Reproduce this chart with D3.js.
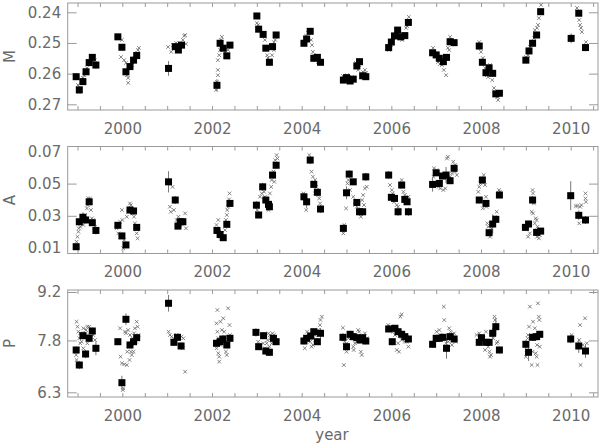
<!DOCTYPE html>
<html><head><meta charset="utf-8">
<script src="https://cdn.jsdelivr.net/npm/d3@7"></script>
<style>body{margin:0;background:#fff}svg{display:block}</style>
</head><body>
<svg id="c" width="600" height="445"></svg>
<script>
// ---------- DATA ----------
const xTickYears = d3.range(1999, 2010.51, 0.5);
const xLabelYears = [2000, 2002, 2004, 2006, 2008, 2010];

const mTicks = [0.24, 0.25, 0.26, 0.27];
const aTicks = [0.01, 0.03, 0.05, 0.07];
const aTickMarks = [0.03, 0.05];
const pTicks = [6.3, 7.8, 9.2];

// [year, value, error]
const mSquares = [
[1998.97,0.2610,0.0010],[1999.04,0.2653,0.0012],[1999.12,0.2626,0.0010],[1999.19,0.2594,0.0010],[1999.26,0.2564,0.0010],[1999.33,0.2547,0.0010],[1999.41,0.2572,0.0012],
[1999.90,0.2480,0.0010],[1999.99,0.2514,0.0010],[2000.08,0.2594,0.0010],[2000.17,0.2577,0.0010],[2000.25,0.2556,0.0010],[2000.32,0.2541,0.0010],
[2001.03,0.2583,0.0024],[2001.18,0.2512,0.0010],[2001.25,0.2523,0.0010],[2001.32,0.2507,0.0010],
[2002.11,0.2638,0.0020],[2002.18,0.2501,0.0010],[2002.25,0.2517,0.0010],[2002.33,0.2542,0.0010],[2002.40,0.2507,0.0010],
[2003.00,0.2412,0.0010],[2003.04,0.2455,0.0010],[2003.14,0.2472,0.0010],[2003.20,0.2517,0.0010],[2003.28,0.2563,0.0010],[2003.35,0.2512,0.0010],[2003.43,0.2474,0.0010],
[2004.05,0.2501,0.0010],[2004.11,0.2487,0.0010],[2004.19,0.2462,0.0010],[2004.27,0.2550,0.0010],[2004.35,0.2547,0.0010],[2004.42,0.2563,0.0010],
[2004.93,0.2621,0.0010],[2005.00,0.2613,0.0010],[2005.08,0.2624,0.0010],[2005.15,0.2618,0.0010],[2005.23,0.2575,0.0010],[2005.29,0.2561,0.0010],[2005.36,0.2607,0.0010],[2005.43,0.2610,0.0010],
[2005.94,0.2515,0.0010],[2006.00,0.2497,0.0010],[2006.07,0.2477,0.0010],[2006.14,0.2458,0.0010],[2006.21,0.2480,0.0010],[2006.30,0.2476,0.0010],[2006.38,0.2433,0.0010],
[2006.92,0.2532,0.0010],[2007.00,0.2539,0.0010],[2007.07,0.2550,0.0010],[2007.16,0.2561,0.0010],[2007.23,0.2547,0.0010],[2007.31,0.2496,0.0010],[2007.40,0.2499,0.0010],
[2007.96,0.2510,0.0012],[2008.03,0.2563,0.0010],[2008.11,0.2597,0.0010],[2008.18,0.2581,0.0010],[2008.26,0.2599,0.0010],[2008.33,0.2666,0.0010],[2008.41,0.2664,0.0010],
[2009.00,0.2556,0.0010],[2009.07,0.2526,0.0010],[2009.15,0.2501,0.0010],[2009.24,0.2474,0.0010],[2009.33,0.2398,0.0010],
[2010.01,0.2485,0.0016],[2010.18,0.2403,0.0010],[2010.33,0.2515,0.0012]
];
const mCrosses = [
[1999.01,0.2637],[1999.03,0.2660],[1999.06,0.2647],[1999.12,0.2614],[1999.15,0.2605],[1999.17,0.2588],[1999.21,0.2582],[1999.26,0.2565],[1999.30,0.2556],[1999.35,0.2546],[1999.39,0.2556],[1999.37,0.2562],
[1999.99,0.2490],[1999.97,0.2546],[2000.04,0.2556],[2000.08,0.2565],[2000.10,0.2605],[2000.13,0.2614],[2000.13,0.2630],[2000.22,0.2572],[2000.28,0.2549],[2000.35,0.2523],[2000.37,0.2516],[2000.33,0.2533],
[2001.02,0.2513],[2001.09,0.2529],[2001.13,0.2507],[2001.20,0.2500],[2001.29,0.2503],[2001.35,0.2490],[2001.40,0.2474],[2001.42,0.2503],[2001.38,0.2477],
[2002.09,0.2653],[2002.11,0.2627],[2002.13,0.2605],[2002.13,0.2588],[2002.13,0.2556],[2002.16,0.2540],[2002.18,0.2523],[2002.20,0.2490],[2002.22,0.2480],[2002.29,0.2529],[2002.33,0.2540],[2002.36,0.2523],
[2003.00,0.2435],[2003.03,0.2441],[2003.07,0.2458],[2003.18,0.2490],[2003.23,0.2540],[2003.25,0.2549],[2003.29,0.2556],[2003.34,0.2540],[2003.38,0.2497],[2003.41,0.2490],[2003.38,0.2523],
[2004.10,0.2477],[2004.14,0.2467],[2004.16,0.2458],[2004.21,0.2490],[2004.23,0.2507],[2004.25,0.2529],[2004.32,0.2556],[2004.36,0.2562],[2004.27,0.2540],
[2004.92,0.2608],[2005.01,0.2605],[2005.06,0.2621],[2005.12,0.2611],[2005.21,0.2565],[2005.26,0.2588],[2005.28,0.2572],[2005.37,0.2595],[2005.41,0.2588],[2005.44,0.2598],
[2005.95,0.2523],[2005.99,0.2507],[2006.04,0.2484],[2006.10,0.2471],[2006.15,0.2467],[2006.19,0.2484],[2006.24,0.2490],[2006.28,0.2477],[2006.33,0.2451],[2006.35,0.2445],[2006.39,0.2415],
[2006.93,0.2516],[2006.97,0.2542],[2007.04,0.2562],[2007.08,0.2569],[2007.13,0.2572],[2007.17,0.2588],[2007.22,0.2605],[2007.26,0.2516],[2007.29,0.2523],[2007.31,0.2480],[2007.35,0.2490],[2007.38,0.2503],
[2007.96,0.2497],[2008.00,0.2529],[2008.04,0.2549],[2008.09,0.2582],[2008.13,0.2605],[2008.16,0.2611],[2008.20,0.2572],[2008.25,0.2621],[2008.29,0.2647],[2008.31,0.2660],[2008.36,0.2676],[2008.38,0.2686],
[2009.00,0.2546],[2009.05,0.2540],[2009.09,0.2513],[2009.14,0.2497],[2009.18,0.2484],[2009.20,0.2458],[2009.25,0.2451],[2009.27,0.2441],[2009.29,0.2419],[2009.34,0.2376],
[2010.14,0.2386],[2010.19,0.2425],[2010.21,0.2441],[2010.23,0.2451],[2010.25,0.2464],[2010.34,0.2497]
];

const aSquares = [
[1998.97,0.0108,0.0015],[1999.04,0.0263,0.0020],[1999.12,0.0291,0.0030],[1999.18,0.0274,0.0020],[1999.26,0.0387,0.0020],[1999.33,0.0257,0.0020],[1999.41,0.0209,0.0025],
[1999.90,0.0241,0.0020],[1999.99,0.0175,0.0020],[2000.08,0.0119,0.0020],[2000.17,0.0336,0.0020],[2000.25,0.0330,0.0020],[2000.32,0.0228,0.0020],
[2001.03,0.0511,0.0066],[2001.18,0.0398,0.0025],[2001.24,0.0236,0.0020],[2001.29,0.0263,0.0020],[2001.35,0.0263,0.0020],
[2002.11,0.0209,0.0020],[2002.18,0.0184,0.0020],[2002.25,0.0164,0.0020],[2002.33,0.0247,0.0020],[2002.40,0.0377,0.0020],
[2002.99,0.0366,0.0025],[2003.04,0.0305,0.0020],[2003.13,0.0480,0.0025],[2003.20,0.0398,0.0020],[2003.26,0.0371,0.0020],[2003.28,0.0356,0.0020],[2003.35,0.0553,0.0020],[2003.43,0.0614,0.0020],
[2004.05,0.0418,0.0025],[2004.11,0.0387,0.0040],[2004.19,0.0646,0.0025],[2004.27,0.0495,0.0020],[2004.35,0.0446,0.0020],[2004.42,0.0342,0.0025],
[2004.93,0.0222,0.0025],[2005.00,0.0443,0.0040],[2005.06,0.0559,0.0025],[2005.15,0.0511,0.0020],[2005.23,0.0383,0.0020],[2005.29,0.0325,0.0020],[2005.36,0.0325,0.0020],[2005.43,0.0542,0.0025],
[2005.94,0.0553,0.0025],[2006.00,0.0415,0.0020],[2006.07,0.0408,0.0020],[2006.15,0.0325,0.0025],[2006.23,0.0491,0.0020],[2006.30,0.0402,0.0020],[2006.35,0.0387,0.0020],[2006.38,0.0325,0.0025],
[2006.92,0.0495,0.0045],[2007.00,0.0567,0.0020],[2007.07,0.0501,0.0020],[2007.14,0.0547,0.0020],[2007.22,0.0553,0.0050],[2007.31,0.0518,0.0020],[2007.40,0.0595,0.0020],
[2007.96,0.0398,0.0020],[2008.03,0.0522,0.0020],[2008.11,0.0377,0.0020],[2008.18,0.0195,0.0020],[2008.26,0.0249,0.0060],[2008.33,0.0278,0.0020],[2008.41,0.0429,0.0020],
[2008.99,0.0228,0.0020],[2009.06,0.0249,0.0020],[2009.15,0.0398,0.0025],[2009.24,0.0197,0.0020],[2009.33,0.0205,0.0020],
[2010.00,0.0425,0.0090],[2010.18,0.0303,0.0030],[2010.33,0.0274,0.0025]
];
const aCrosses = [
[1998.98,0.0139],[1999.00,0.0170],[1999.02,0.0201],[1999.03,0.0222],[1999.06,0.0232],[1999.08,0.0253],[1999.09,0.0274],[1999.13,0.0243],[1999.14,0.0294],[1999.17,0.0305],[1999.21,0.0346],[1999.23,0.0367],[1999.24,0.0408],[1999.28,0.0408],[1999.30,0.0336],[1999.32,0.0284],[1999.35,0.0274],[1999.39,0.0232],
[1999.87,0.0222],[1999.91,0.0191],[1999.95,0.0263],[1999.99,0.0336],[2000.00,0.0274],[2000.02,0.0098],[2000.04,0.0150],[2000.10,0.0294],[2000.13,0.0325],[2000.17,0.0377],[2000.19,0.0367],[2000.23,0.0315],[2000.26,0.0294],[2000.28,0.0253],[2000.31,0.0222],[2000.32,0.0191],[2000.34,0.0160],
[2001.06,0.0356],[2001.08,0.0325],[2001.12,0.0480],[2001.15,0.0336],[2001.21,0.0274],[2001.25,0.0294],[2001.29,0.0243],[2001.36,0.0274],[2001.40,0.0315],[2001.42,0.0222],
[2002.10,0.0243],[2002.14,0.0274],[2002.16,0.0201],[2002.19,0.0170],[2002.24,0.0160],[2002.29,0.0211],[2002.31,0.0274],[2002.33,0.0305],[2002.34,0.0336],[2002.36,0.0356],[2002.38,0.0402],[2002.39,0.0439],
[2003.01,0.0336],[2003.07,0.0418],[2003.11,0.0439],[2003.16,0.0449],[2003.18,0.0418],[2003.22,0.0387],[2003.26,0.0336],[2003.29,0.0439],[2003.32,0.0480],[2003.33,0.0522],[2003.37,0.0574],[2003.41,0.0646],[2003.44,0.0677],[2003.46,0.0656],[2003.39,0.0511],
[2004.04,0.0439],[2004.10,0.0336],[2004.17,0.0677],[2004.22,0.0574],[2004.25,0.0543],[2004.26,0.0511],[2004.30,0.0522],[2004.32,0.0480],[2004.34,0.0460],[2004.37,0.0429],[2004.39,0.0408],[2004.41,0.0377],[2004.30,0.0439],
[2004.93,0.0191],[2004.95,0.0243],[2004.99,0.0346],[2005.02,0.0501],[2005.04,0.0522],[2005.08,0.0460],[2005.15,0.0418],[2005.19,0.0367],[2005.23,0.0356],[2005.26,0.0346],[2005.30,0.0315],[2005.32,0.0294],[2005.35,0.0398],[2005.37,0.0429],[2005.41,0.0470],[2005.45,0.0480],[2005.39,0.0367],
[2005.97,0.0491],[2006.01,0.0460],[2006.03,0.0439],[2006.06,0.0387],[2006.12,0.0367],[2006.15,0.0356],[2006.23,0.0522],[2006.25,0.0480],[2006.30,0.0429],[2006.34,0.0408],[2006.38,0.0418],[2006.27,0.0449],
[2006.94,0.0542],[2006.95,0.0595],[2007.01,0.0584],[2007.05,0.0480],[2007.09,0.0470],[2007.16,0.0460],[2007.20,0.0470],[2007.24,0.0656],[2007.26,0.0667],[2007.31,0.0542],[2007.35,0.0563],[2007.38,0.0636],[2007.42,0.0615],[2007.42,0.0574],[2007.46,0.0553],
[2007.94,0.0449],[2007.96,0.0480],[2007.99,0.0501],[2008.02,0.0532],[2008.06,0.0553],[2008.09,0.0491],[2008.11,0.0418],[2008.12,0.0356],[2008.14,0.0253],[2008.16,0.0232],[2008.20,0.0170],[2008.23,0.0222],[2008.27,0.0253],[2008.31,0.0294],[2008.35,0.0325],[2008.40,0.0460],[2008.42,0.0449],[2008.04,0.0346],
[2009.05,0.0170],[2009.09,0.0191],[2009.13,0.0325],[2009.16,0.0315],[2009.15,0.0460],[2009.16,0.0439],[2009.18,0.0377],[2009.20,0.0253],[2009.22,0.0284],[2009.24,0.0274],[2009.26,0.0232],[2009.27,0.0191],[2009.29,0.0160],[2009.25,0.0170],[2009.31,0.0181],
[2010.11,0.0361],[2010.15,0.0361],[2010.19,0.0253],[2010.21,0.0356],[2010.24,0.0367],[2010.33,0.0439],[2010.33,0.0408],[2010.34,0.0387]
];

const pSquares = [
[1998.97,7.523,0.10],[1999.04,7.089,0.12],[1999.12,7.937,0.10],[1999.18,7.407,0.12],[1999.26,7.861,0.10],[1999.33,8.072,0.10],[1999.41,7.572,0.20],
[1999.90,7.763,0.10],[1999.99,6.578,0.20],[2000.08,8.411,0.17],[2000.17,7.668,0.10],[2000.25,7.763,0.10],[2000.32,7.879,0.10],
[2001.03,8.874,0.24],[2001.15,7.745,0.10],[2001.23,7.890,0.10],[2001.31,7.639,0.10],
[2002.10,7.717,0.10],[2002.18,7.763,0.10],[2002.24,7.841,0.10],[2002.33,7.668,0.10],[2002.40,7.861,0.10],
[2002.98,8.033,0.12],[2003.04,7.619,0.10],[2003.15,7.937,0.10],[2003.20,7.494,0.10],[2003.28,7.456,0.10],[2003.37,7.861,0.10],[2003.43,7.763,0.10],
[2004.05,7.783,0.10],[2004.11,7.861,0.10],[2004.20,7.928,0.10],[2004.27,8.052,0.10],[2004.35,7.763,0.10],[2004.42,8.006,0.15],
[2004.92,7.890,0.12],[2005.00,7.619,0.10],[2005.08,7.977,0.10],[2005.15,7.909,0.10],[2005.23,7.879,0.10],[2005.30,7.813,0.10],[2005.36,7.879,0.10],[2005.43,7.783,0.10],
[2005.94,8.131,0.10],[2006.02,7.763,0.10],[2006.08,8.151,0.10],[2006.15,8.052,0.10],[2006.23,7.977,0.10],[2006.30,7.909,0.10],[2006.38,7.841,0.10],
[2006.92,7.688,0.10],[2007.00,7.861,0.10],[2007.07,7.861,0.10],[2007.15,7.890,0.10],[2007.23,7.572,0.30],[2007.31,7.909,0.10],[2007.40,7.841,0.10],
[2007.96,7.745,0.10],[2008.01,7.879,0.10],[2008.11,7.745,0.10],[2008.18,7.745,0.10],[2008.26,8.006,0.15],[2008.33,8.197,0.25],[2008.41,7.523,0.10],
[2009.00,7.688,0.12],[2009.06,7.456,0.25],[2009.15,7.890,0.10],[2009.24,7.909,0.10],[2009.31,7.977,0.10],
[2010.00,7.841,0.12],[2010.18,7.639,0.20],[2010.33,7.494,0.20]
];
const pCrosses = [
[1998.98,8.341],[1999.00,8.197],[1999.02,8.052],[1999.04,7.861],[1999.06,7.717],[1998.97,7.378],[1998.98,7.234],[1999.00,7.138],[1999.09,7.763],[1999.13,8.151],[1999.17,8.006],[1999.19,8.101],[1999.22,8.197],[1999.24,7.957],[1999.26,8.197],[1999.29,8.052],[1999.32,8.101],[1999.35,7.957],[1999.39,7.813],[1999.22,7.717],[1999.13,7.572],[1999.06,8.006],
[1999.95,8.151],[1999.96,7.330],[1999.99,7.138],[2000.01,6.366],[2000.02,6.416],[2000.04,7.109],[2000.06,8.052],[2000.08,8.006],[2000.10,7.089],[2000.11,7.474],[2000.13,8.101],[2000.16,7.234],[2000.17,7.957],[2000.19,7.474],[2000.21,7.378],[2000.23,7.861],[2000.25,7.474],[2000.26,8.006],[2000.28,8.151],[2000.31,7.763],[2000.32,8.341],[2000.34,8.197],[2000.36,7.957],[2000.16,7.619],[2000.21,7.717],
[2001.03,8.052],[2001.06,7.957],[2001.10,7.909],[2001.14,7.861],[2001.17,7.813],[2001.21,7.957],[2001.27,7.879],[2001.32,7.909],[2001.36,7.861],[2001.35,7.572],[2001.40,6.896],
[2002.12,8.679],[2002.10,8.295],[2002.12,8.052],[2002.14,7.861],[2002.10,7.572],[2002.14,7.428],[2002.16,7.330],[2002.16,7.186],[2002.19,7.668],[2002.22,8.101],[2002.25,8.439],[2002.27,8.052],[2002.29,7.909],[2002.31,7.474],[2002.33,7.378],[2002.36,8.729],[2002.39,8.245],[2002.40,7.957],[2002.19,8.341],
[2003.03,7.763],[2003.14,7.717],[2003.18,7.572],[2003.22,7.717],[2003.24,7.813],[2003.26,8.006],[2003.29,7.957],[2003.31,7.861],[2003.33,7.717],[2003.35,8.006],[2003.38,7.957],[2003.41,7.813],[2003.22,7.474],[2003.28,7.619],
[2004.07,7.572],[2004.12,8.052],[2004.19,7.763],[2004.22,7.619],[2004.25,7.668],[2004.26,7.861],[2004.30,7.957],[2004.34,8.006],[2004.37,8.101],[2004.41,8.245],[2004.42,8.390],[2004.45,8.486],[2004.30,7.813],
[2004.92,8.166],[2004.94,7.089],[2004.96,7.763],[2005.00,7.717],[2005.00,7.474],[2005.04,7.861],[2005.11,7.957],[2005.15,7.619],[2005.16,7.523],[2005.19,7.717],[2005.23,7.763],[2005.26,8.101],[2005.28,8.052],[2005.32,7.474],[2005.34,7.378],[2005.37,7.909],[2005.41,8.006],[2005.45,7.861],
[2005.93,8.245],[2005.98,8.197],[2006.04,8.052],[2006.08,7.957],[2006.12,7.523],[2006.15,7.717],[2006.17,7.474],[2006.20,8.486],[2006.23,8.555],[2006.23,7.813],[2006.27,7.957],[2006.30,7.763],[2006.34,7.763],[2006.38,7.619],
[2006.94,7.717],[2007.01,8.052],[2007.07,8.101],[2007.09,7.957],[2007.12,7.861],[2007.17,8.776],[2007.18,8.390],[2007.22,7.717],[2007.23,7.619],[2007.27,7.763],[2007.29,8.151],[2007.32,8.052],[2007.35,7.668],[2007.37,7.957],[2007.40,8.006],[2007.42,7.861],[2007.44,7.763],
[2007.90,7.957],[2007.96,8.006],[2007.98,7.813],[2008.05,7.861],[2008.09,7.523],[2008.13,7.717],[2008.16,7.619],[2008.19,7.474],[2008.20,7.330],[2008.22,7.378],[2008.24,7.957],[2008.27,7.861],[2008.30,8.486],[2008.31,8.390],[2008.35,7.717],[2008.37,7.763],[2008.11,8.052],
[2009.00,7.330],[2009.02,7.523],[2009.04,7.861],[2009.05,7.957],[2009.07,8.197],[2009.09,8.776],[2009.13,7.089],[2009.15,7.474],[2009.16,8.341],[2009.19,7.957],[2009.20,8.151],[2009.22,7.428],[2009.24,7.330],[2009.25,7.668],[2009.26,7.089],[2009.27,8.872],[2009.29,8.486],[2009.30,8.390],[2009.31,7.619],[2009.33,7.947],
[2010.02,7.957],[2010.19,7.813],[2010.21,8.245],[2010.22,7.089],[2010.27,7.668],[2010.32,8.439],[2010.36,7.717]
];

// ---------- DRAW ----------
const X0 = 67.7, X1 = 598, PH = 107;
const svg = d3.select('#c');
const FONT = "'DejaVu Sans', sans-serif";
const TXT = '#6a6a6a', FRAME = '#9a9a9a';

const x = d3.scaleLinear().domain([1998.781, 2010.609]).range([X0, X1]);

const panels = [
  {title:'M', top:3, y:d3.scaleLinear().domain([0.24,0.27]).range([12.3,104.3]), labels:mTicks, marks:mTicks, fmt:d3.format('.2f'), sq:mSquares, cr:mCrosses},
  {title:'A', top:146.5, y:d3.scaleLinear().domain([0.01,0.07]).range([248,151.4]), labels:aTicks, marks:aTickMarks, fmt:d3.format('.2f'), sq:aSquares, cr:aCrosses},
  {title:'P', top:290, y:d3.scaleLinear().domain([6.3,9.2]).range([392.3,292]), labels:pTicks, marks:pTicks, fmt:d3.format('.1f'), sq:pSquares, cr:pCrosses}
];

panels.forEach(p => {
  const g = svg.append('g');
  const bottom = p.top + PH;
  const yl = g.append('g').attr('transform', `translate(${X0},0)`)
    .call(d3.axisLeft(p.y).tickValues(p.labels).tickFormat(p.fmt).tickSize(0).tickPadding(6.5));
  yl.select('.domain').remove();
  yl.selectAll('text').attr('font-family', FONT).attr('font-size', 15).attr('fill', TXT);
  const ytl = g.append('g').attr('transform', `translate(${X0},0)`)
    .call(d3.axisLeft(p.y).tickValues(p.marks).tickFormat('').tickSize(-9));
  const ytr = g.append('g').attr('transform', `translate(${X1},0)`)
    .call(d3.axisRight(p.y).tickValues(p.marks).tickFormat('').tickSize(-9));
  [ytl, ytr].forEach(a => { a.select('.domain').remove(); a.selectAll('line').attr('stroke', FRAME); });
  const xb = g.append('g').attr('transform', `translate(0,${bottom})`)
    .call(d3.axisBottom(x).tickValues(xTickYears).tickSize(-4).tickPadding(13)
      .tickFormat(d => xLabelYears.includes(d) ? String(d) : ''));
  const xt = g.append('g').attr('transform', `translate(0,${p.top})`)
    .call(d3.axisTop(x).tickValues(xTickYears).tickSize(-4).tickFormat(''));
  [xb, xt].forEach(a => { a.select('.domain').remove(); a.selectAll('line').attr('stroke', FRAME); });
  xb.selectAll('text').attr('font-family', FONT).attr('font-size', 15).attr('fill', TXT);
  g.append('rect').attr('x', X0).attr('y', p.top).attr('width', X1 - X0).attr('height', PH)
    .attr('fill', 'none').attr('stroke', FRAME).attr('stroke-width', 1);
  g.append('text').attr('transform', `translate(15,${p.top + PH/2}) rotate(-90)`)
    .attr('text-anchor', 'middle').attr('font-family', FONT).attr('font-size', 15).attr('fill', TXT)
    .text(p.title);
  const cs = 1.8;
  g.append('g').selectAll('path').data(p.cr).join('path')
    .attr('d', d => { const cx = x(d[0]), cy = p.y(d[1]);
      return `M${cx-cs},${cy-cs}L${cx+cs},${cy+cs}M${cx-cs},${cy+cs}L${cx+cs},${cy-cs}`; })
    .attr('stroke', '#666').attr('stroke-width', 0.8).attr('fill', 'none');
  g.append('g').selectAll('line').data(p.sq).join('line')
    .attr('x1', d => x(d[0])).attr('x2', d => x(d[0]))
    .attr('y1', d => p.y(d[1] - d[2])).attr('y2', d => p.y(d[1] + d[2]))
    .attr('stroke', '#777').attr('stroke-width', 1);
  const s = 7;
  g.append('g').selectAll('rect').data(p.sq).join('rect')
    .attr('x', d => x(d[0]) - s/2).attr('y', d => p.y(d[1]) - s/2)
    .attr('width', s).attr('height', s).attr('fill', '#000');
});

svg.append('text').attr('x', 332).attr('y', 440).attr('text-anchor', 'middle')
  .attr('font-family', FONT).attr('font-size', 15).attr('fill', TXT).text('year');
</script>
</body></html>
